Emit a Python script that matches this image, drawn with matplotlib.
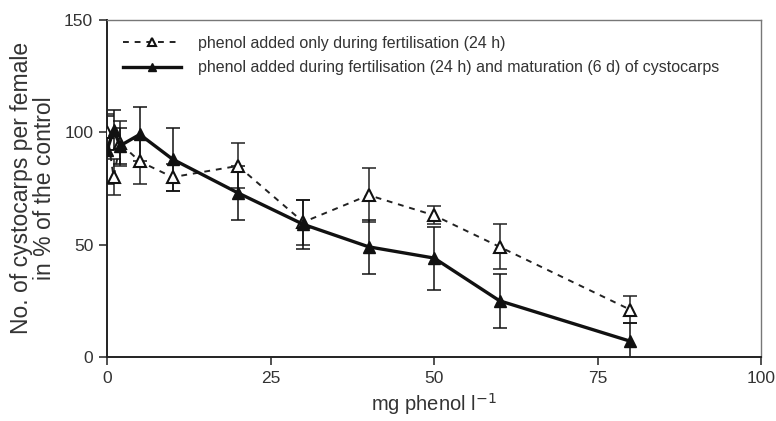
import matplotlib.pyplot as plt

plt.rcParams['font.family'] = ['Liberation Sans', 'DejaVu Sans']

# Daten
x_open = [0, 1, 2, 5, 10, 20, 30, 40, 50, 60, 80]
y_open = [100, 80, 95, 87, 80, 85, 60, 72, 63, 49, 21]
e_open = [8, 8, 10, 10, 6, 10, 10, 12, 4, 10, 6]

x_solid = [0, 1, 2, 5, 10, 20, 30, 40, 50, 60, 80]
y_solid = [92, 101, 94, 99, 88, 73, 59, 49, 44, 25, 7]
e_solid = [15, 9, 8, 12, 14, 12, 11, 12, 14, 12, 8]

label_open = 'phenol added only during fertilisation (24 h)'
label_solid = 'phenol added during fertilisation (24 h) and maturation (6 d) of cystocarps'

fig = plt.figure(figsize=(7.76, 4.21), dpi=100)
ax = fig.add_axes([0.138, 0.152, 0.843, 0.801])

ax.errorbar(x_open, y_open, yerr=e_open, fmt='none', ecolor='#222222',
            elinewidth=1.1, capsize=5, capthick=1.1, zorder=2)
ax.errorbar(x_solid, y_solid, yerr=e_solid, fmt='none', ecolor='#111111',
            elinewidth=1.1, capsize=5, capthick=1.1, zorder=2)

ax.plot(x_open, y_open, linestyle=(0, (3, 3)), color='#222222', linewidth=1.4,
        marker='^', markersize=8, markerfacecolor='white', markeredgecolor='#111111',
        markeredgewidth=1.5, label=label_open, zorder=3)
ax.plot(x_solid, y_solid, linestyle='-', color='#111111', linewidth=2.4,
        marker='^', markersize=8, markerfacecolor='#111111', markeredgecolor='#111111',
        label=label_solid, zorder=4)

ax.set_xlim(0, 100)
ax.set_ylim(0, 150)
ax.set_xticks([0, 25, 50, 75, 100])
ax.set_yticks([0, 50, 100, 150])
ax.tick_params(direction='out', length=6, width=1.1, labelsize=12.5,
               labelcolor='#333333', color='#222222', pad=4)

for side in ['left', 'bottom']:
    ax.spines[side].set_linewidth(1.4)
    ax.spines[side].set_color('#222222')
for side in ['top', 'right']:
    ax.spines[side].set_linewidth(1.0)
    ax.spines[side].set_color('#777777')

ax.set_xlabel('mg phenol l$^{-1}$', fontsize=14.5, color='#333333', labelpad=4)
ax.set_ylabel('No. of cystocarps per female\nin % of the control', fontsize=16.5,
              color='#333333', labelpad=6, linespacing=1.0)

leg = ax.legend(loc='upper left', bbox_to_anchor=(0.0, 1.0), frameon=False,
                fontsize=11.5, handlelength=3.6, handletextpad=1.1,
                labelspacing=0.6, borderaxespad=0.6, markerscale=0.75)
for t in leg.get_texts():
    t.set_color('#333333')

fig.savefig('out.png', dpi=100)
